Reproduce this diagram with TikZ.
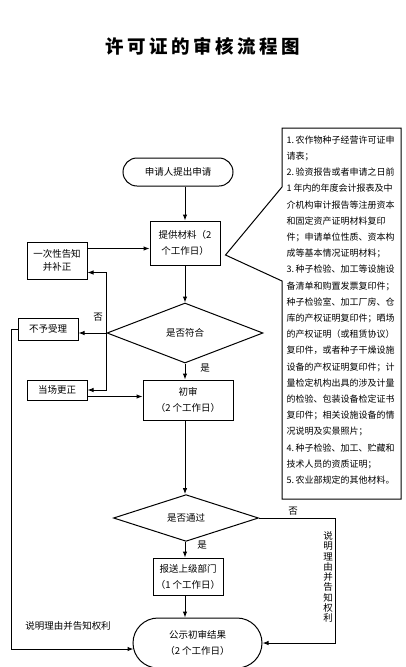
\documentclass[tikz,border=0pt]{standalone}
\usepackage{fontspec}
\setmainfont{Noto Sans CJK SC}
\usetikzlibrary{arrows.meta,calc,shapes.geometric}
\XeTeXlinebreaklocale "zh"
\XeTeXlinebreakskip=0pt plus 3pt
\newlength\calw
\setlength\calw{110pt}
\newcommand\jl[1]{\leavevmode\hbox to \calw{#1}}
\newcommand\shortln[1]{\leavevmode\hbox{#1}}
\tikzset{
  base/.style={font=\fontsize{9.5}{15.5}\selectfont, inner sep=0pt, align=center},
  boxn/.style={base, draw, line width=1pt},
  stad/.style={base, draw, line width=1pt},
  dia/.style={base, draw, line width=1pt, shape=diamond},
  lbl/.style={base},
  conn/.style={line width=1pt, -{Latex[length=6pt,width=4.5pt]}},
  plain/.style={line width=1pt}
}
\begin{document}
\begin{tikzpicture}[x=1pt,y=-1pt]
\useasboundingbox (0,0) rectangle (406,667);

\node[font=\bfseries\fontsize{18.5}{19}\selectfont, inner sep=0pt] (title) at (203,46)
  {许\kern3.5pt 可\kern3.5pt 证\kern3.5pt 的\kern3.5pt 审\kern3.5pt 核\kern3.5pt 流\kern3.5pt 程\kern3.5pt 图};

\node[stad, minimum width=110, minimum height=28, rounded corners=14pt] (start) at (178,172) {申请人提出申请};
\node[boxn, minimum width=70, minimum height=44] (provide) at (185,243) {提供材料（2\\个工作日）};
\node[boxn, minimum width=60, minimum height=37, font=\fontsize{9.5}{13.5}\selectfont] (notify) at (57,260.5) {一次性告知\\并补正};
\node[dia, minimum width=156, minimum height=60] (d1) at (185,333) {是否符合};
\node[boxn, minimum width=60, minimum height=22] (nosl) at (48,329) {不予受理};
\node[boxn, minimum width=60, minimum height=20] (fix) at (57,390) {当场更正};
\node[boxn, minimum width=90, minimum height=40, font=\fontsize{9.5}{16}\selectfont] (first) at (188,400) {初审\\（2 个工作日）};
\node[dia, minimum width=145, minimum height=30] (d2) at (186,518) {是否通过};
\node[boxn, minimum width=70, minimum height=37, font=\fontsize{9.5}{16}\selectfont] (report) at (188,576.5) {报送上级部门\\（1 个工作日）};
\node[stad, minimum width=129, minimum height=50, rounded corners=25pt, font=\fontsize{9.5}{16}\selectfont] (publish) at (197.5,643) {公示初审结果\\（2 个工作日）};

% callout with materials list
\node[inner sep=0pt, anchor=west, text width=\calw, align=left,
      font=\fontsize{9}{16.2}\selectfont] (mat) at (286.5,310) {%
\jl{1.\kern1.5pt 农作物种子经营许可证申}\\
\shortln{请表；}\\
\jl{2.\kern1.5pt 验资报告或者申请之日前}\\
\jl{1\kern2pt 年内的年度会计报表及中}\\
\jl{介机构审计报告等注册资本}\\
\jl{和固定资产证明材料复印}\\
\jl{件；申请单位性质、资本构}\\
\shortln{成等基本情况证明材料；}\\
\jl{3.\kern1.5pt 种子检验、加工等设施设}\\
\jl{备清单和购置发票复印件；}\\
\jl{种子检验室、加工厂房、仓}\\
\jl{库的产权证明复印件；晒场}\\
\jl{的产权证明（或租赁协议）}\\
\jl{复印件，或者种子干燥设施}\\
\jl{设备的产权证明复印件；计}\\
\jl{量检定机构出具的涉及计量}\\
\jl{的检验、包装设备检定证书}\\
\jl{复印件；相关设施设备的情}\\
\shortln{况说明及实景照片；}\\
\jl{4.\kern1.5pt 种子检验、加工、贮藏和}\\
\shortln{技术人员的资质证明；}\\
\shortln{5.\kern1.5pt 农业部规定的其他材料。}};
\coordinate (tip) at ($(provide.east)+(5,12)$);
\draw[plain, line join=miter] (282,187) -- (282,128) -- (401,128) -- (401,499) -- (282,499) -- (282,281) -- (tip) -- cycle;

% main column
\draw[conn] (start.south -| provide.north) -- (provide.north);
\draw[conn] (provide.south) -- (d1.north);
\draw[conn] (d1.south) -- (d1.south |- first.north);
\draw[conn] (first.south -| d1.south) -- (d2.north -| d1.south);
\draw[conn] (d2.south -| d1.south) -- (report.north -| d1.south);
\draw[conn] (report.south -| d1.south) -- (publish.north -| d1.south);

% left branches
\coordinate (nin) at ($(notify.south east)+(0,-7)$);
\coordinate (nout) at ($(notify.north east)+(0,7)$);
\draw[conn] (nout) -- (nout -| provide.west);
\draw[conn] (d1.west) -- (d1.west -| nosl.east);
\draw[conn] (d1.west) |- (nin);
\draw[conn] (d1.west) |- (fix.east);
\coordinate (fout) at ($(fix.south east)+(0,-4)$);
\draw[conn] (fout) -- (fout -| first.west);
\draw[conn] (nosl.west) -- ++(-6,0) |- ($(publish.west)+(1,6)$);

% right branch
\draw[conn] (d2.east) -- ++(76,0) |- (publish.east);

% labels
\node[lbl] (no1) at (98,317) {否};
\node[lbl] (yes1) at (205,368) {是};
\node[lbl] (no2) at (293,511) {否};
\node[lbl] (yes2) at (202,545) {是};
\node[lbl] (why1) at (68,626) {说明理由并告知权利};
\node[lbl, font=\fontsize{9.5}{10.25}\selectfont] (why2) at (328,577) {说\\明\\理\\由\\并\\告\\知\\权\\利};
\end{tikzpicture}
\end{document}
